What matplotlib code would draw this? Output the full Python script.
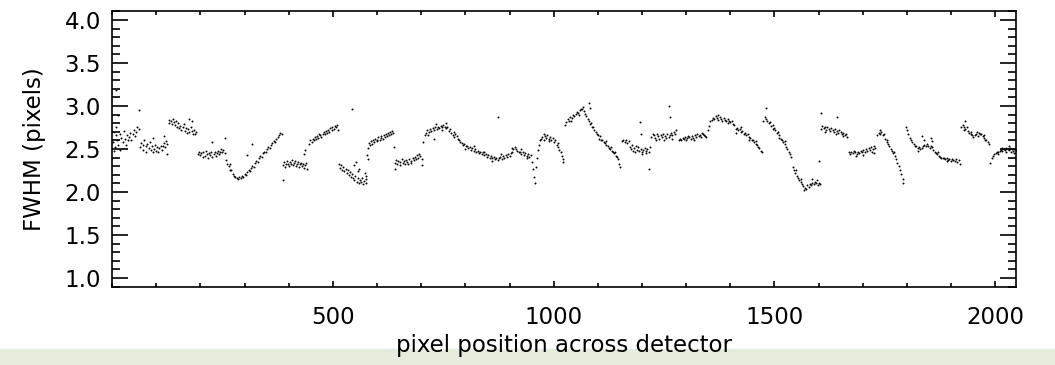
import matplotlib
matplotlib.use("Agg")
import matplotlib.pyplot as plt
from matplotlib.ticker import MultipleLocator
from matplotlib.patches import Rectangle

pix_a = [2, 4, 6, 8, 10, 12, 14, 17, 19, 21, 24, 26, 29, 31, 34, 36, 39, 41, 44, 47, 49, 52, 55, 57, 60]
fwhm_a = [2.58, 2.70, 2.52, 2.66, 2.75, 2.61, 2.55, 2.68, 2.49, 2.63, 2.58, 2.71, 2.62, 2.55, 2.66, 2.60, 2.64, 2.69,
          2.61, 2.67, 2.72, 2.65, 2.70, 2.76, 2.73]

pix_b = [64, 66, 69, 71, 73, 76, 78, 80, 83, 85, 88, 90, 93, 95, 97, 100, 102, 105, 107, 110, 112, 115, 117, 120, 122, 125,
         128, 130, 133, 135, 137, 140, 142, 145, 147, 150, 152, 155, 157, 160, 162, 165, 167, 170, 172, 175, 178, 180,
         183, 185, 188, 190]
fwhm_b = [2.52, 2.57, 2.49, 2.55, 2.60, 2.53, 2.47, 2.56, 2.51, 2.58, 2.49, 2.53, 2.46, 2.50, 2.55, 2.48, 2.52, 2.47,
          2.51, 2.54, 2.49, 2.53, 2.57, 2.52, 2.59, 2.56,
          2.80, 2.84, 2.82, 2.79, 2.85, 2.81, 2.78, 2.83, 2.76, 2.80, 2.74, 2.77, 2.72, 2.75, 2.79, 2.71, 2.74, 2.69,
          2.73, 2.70, 2.76, 2.71, 2.68, 2.72, 2.67, 2.70]

pix_c = [195, 197, 200, 202, 205, 207, 210, 212, 215, 217, 220, 222, 225, 227, 230, 232, 235, 237, 240, 242, 245, 247,
         250, 252, 255,
         258, 261, 264, 267, 270, 273, 276, 279, 282, 285, 288, 291, 294, 297, 300, 303, 306, 309, 312, 315, 318, 321,
         324, 327, 330, 333, 336, 339, 342, 345, 348, 351, 354, 357, 360, 363, 366, 369, 372, 375, 378, 381, 384]
fwhm_c = [2.44, 2.47, 2.43, 2.45, 2.41, 2.46, 2.42, 2.48, 2.44, 2.40, 2.45, 2.43, 2.47, 2.41, 2.44, 2.46, 2.42, 2.45,
          2.48, 2.44, 2.47, 2.50, 2.46, 2.49, 2.45,
          2.37, 2.33, 2.30, 2.26, 2.25, 2.21, 2.19, 2.17, 2.16, 2.15, 2.17, 2.16, 2.19, 2.18, 2.21, 2.20, 2.23, 2.25,
          2.24, 2.28, 2.30, 2.29, 2.34, 2.36, 2.35, 2.40, 2.42, 2.41, 2.45, 2.47, 2.46, 2.50, 2.52, 2.51, 2.55, 2.57,
          2.59, 2.58, 2.62, 2.64, 2.66, 2.69, 2.68]

pix_d = [387, 389, 391, 393, 396, 398, 400, 403, 405, 407, 410, 412, 414, 417, 419, 421, 424, 426, 428, 431, 433, 435,
         438, 440, 442,
         447, 449, 452, 454, 457, 459, 462, 464, 467, 469, 472, 474, 477, 479, 482, 484, 487, 489, 492, 494, 497, 499,
         502, 504, 507, 509, 512]
fwhm_d = [2.31, 2.35, 2.29, 2.33, 2.36, 2.32, 2.30, 2.35, 2.33, 2.37, 2.31, 2.34, 2.36, 2.30, 2.33, 2.35, 2.29, 2.32,
          2.34, 2.30, 2.33, 2.28, 2.31, 2.34, 2.27,
          2.56, 2.60, 2.58, 2.62, 2.61, 2.64, 2.62, 2.65, 2.63, 2.67, 2.66, 2.64, 2.68, 2.70, 2.67, 2.71, 2.69, 2.72,
          2.70, 2.74, 2.72, 2.76, 2.73, 2.77, 2.75, 2.78, 2.72]

pix_e = [514, 516, 519, 521, 524, 526, 529, 531, 534, 536, 539, 541, 544, 546, 549, 551, 554, 556, 559, 561, 564, 566,
         569, 571, 574, 576,
         578, 580, 582, 585, 587, 589, 592, 594, 596, 599, 601, 603, 606, 608, 610, 613, 615, 617, 620, 622, 624, 627,
         629, 631, 634, 636,
         641, 643, 646, 648, 651, 653, 656, 658, 661, 663, 666, 668, 671, 673, 676, 678, 681, 683, 686, 688, 691, 693,
         696, 698, 701]
fwhm_e = [2.33, 2.28, 2.31, 2.26, 2.29, 2.24, 2.27, 2.22, 2.25, 2.20, 2.23, 2.18, 2.21, 2.16, 2.14, 2.19, 2.12, 2.16,
          2.10, 2.14, 2.12, 2.16, 2.09, 2.13, 2.15, 2.11,
          2.43, 2.51, 2.57, 2.55, 2.59, 2.56, 2.60, 2.58, 2.62, 2.59, 2.61, 2.64, 2.60, 2.63, 2.65, 2.62, 2.66, 2.64,
          2.67, 2.65, 2.69, 2.66, 2.70, 2.68, 2.71, 2.69,
          2.34, 2.37, 2.33, 2.36, 2.31, 2.35, 2.38, 2.34, 2.36, 2.32, 2.37, 2.35, 2.33, 2.38, 2.36, 2.34, 2.39, 2.37,
          2.41, 2.38, 2.43, 2.40, 2.44, 2.42, 2.38]

pix_f = [705, 708, 711, 714, 717, 720, 723, 726, 729, 732, 735, 738, 741, 744, 747, 750, 753, 756, 759, 762, 765, 768,
         771, 774, 777, 780, 783, 786, 789, 792, 795, 798, 801, 804, 807, 810, 813, 816, 819, 822, 825, 828, 831, 834,
         837, 840, 843, 846, 849, 852, 855, 858, 861, 864, 867, 870, 873, 876, 879, 882, 885, 888, 891, 894, 897, 900,
         903, 906, 909, 912, 915, 918, 921, 924, 927, 930, 933, 936, 939, 942, 945, 948, 951, 953, 955, 957, 960, 962,
         964, 966, 968, 971, 974, 977, 980, 983, 986, 989, 992, 995, 998, 1001, 1004, 1007, 1010, 1013, 1016, 1019,
         1022,
         716, 733, 748, 757, 775, 800, 820, 842, 860, 880, 905, 925, 940, 978, 990, 1009, 1020]
fwhm_f = [2.58, 2.66, 2.69, 2.72, 2.70, 2.73, 2.71, 2.74, 2.72, 2.75, 2.73, 2.76, 2.74, 2.77, 2.75, 2.78, 2.76, 2.74,
          2.75, 2.71, 2.73, 2.69, 2.66, 2.70, 2.68, 2.65, 2.62, 2.60, 2.58, 2.57, 2.55, 2.56, 2.53, 2.54, 2.51, 2.52,
          2.49, 2.51, 2.48, 2.50, 2.47, 2.48, 2.45, 2.47, 2.44, 2.46, 2.43, 2.44, 2.41, 2.43, 2.40, 2.42, 2.39, 2.41,
          2.38, 2.40, 2.37, 2.39, 2.41, 2.38, 2.42, 2.40, 2.43, 2.41, 2.44, 2.42, 2.45, 2.47, 2.50, 2.52, 2.50, 2.48,
          2.46, 2.47, 2.44, 2.46, 2.43, 2.45, 2.42, 2.44, 2.41, 2.43, 2.35, 2.27, 2.18, 2.10, 2.29, 2.40, 2.49, 2.55,
          2.60, 2.62, 2.64, 2.61, 2.65, 2.63, 2.66, 2.62, 2.64, 2.61, 2.63, 2.58, 2.60, 2.55, 2.52, 2.49, 2.46, 2.42,
          2.38,
          2.66, 2.79, 2.72, 2.80, 2.64, 2.50, 2.53, 2.47, 2.36, 2.44, 2.51, 2.50, 2.39, 2.67, 2.59, 2.57, 2.35]

pix_g = [1026, 1029, 1032, 1035, 1038, 1041, 1044, 1047, 1050, 1053, 1056, 1059, 1062, 1065, 1068, 1071, 1074, 1077,
         1080, 1083, 1086, 1089, 1092, 1095, 1098, 1101, 1104, 1107, 1110, 1113, 1116, 1119, 1122, 1125, 1128, 1131,
         1134, 1137, 1140, 1143, 1146, 1149, 1151,
         1040, 1058, 1066, 1085, 1102, 1118, 1130, 1139,
         1155, 1158, 1161, 1164, 1167, 1170, 1173, 1176, 1179, 1182, 1185, 1188, 1191, 1194, 1197, 1200, 1203, 1206,
         1209, 1212, 1215, 1177, 1186, 1199, 1208]
fwhm_g = [2.78, 2.81, 2.85, 2.83, 2.87, 2.86, 2.90, 2.88, 2.91, 2.93, 2.92, 2.95, 2.97, 2.96, 2.94, 2.91, 2.88, 2.85,
          2.82, 2.79, 2.76, 2.75, 2.72, 2.70, 2.68, 2.66, 2.65, 2.61, 2.60, 2.58, 2.57, 2.55, 2.54, 2.51, 2.50, 2.48,
          2.46, 2.45, 2.42, 2.41, 2.38, 2.33, 2.29,
          2.83, 2.90, 2.99, 2.80, 2.62, 2.59, 2.52, 2.47,
          2.59, 2.61, 2.58, 2.60, 2.57, 2.59, 2.52, 2.50, 2.48, 2.51, 2.47, 2.49, 2.52, 2.48, 2.50, 2.46, 2.49, 2.51,
          2.48, 2.50, 2.47, 2.55, 2.53, 2.44, 2.45]

pix_h = [1221, 1224, 1227, 1230, 1233, 1236, 1239, 1242, 1245, 1248, 1251, 1254, 1257, 1260, 1263, 1266, 1269, 1272,
         1275, 1278, 1232, 1250, 1268,
         1283, 1286, 1289, 1292, 1295, 1298, 1301, 1304, 1307, 1310, 1313, 1316, 1319, 1322, 1325, 1328, 1331, 1334,
         1337, 1340, 1343, 1346, 1349, 1352, 1355, 1358, 1361, 1300, 1318, 1335]
fwhm_h = [2.64, 2.68, 2.66, 2.63, 2.67, 2.65, 2.62, 2.66, 2.64, 2.68, 2.65, 2.63, 2.67, 2.64, 2.66, 2.69, 2.66, 2.70,
          2.67, 2.72, 2.60, 2.61, 2.62,
          2.60, 2.62, 2.61, 2.63, 2.62, 2.64, 2.63, 2.65, 2.64, 2.62, 2.65, 2.63, 2.66, 2.64, 2.67, 2.65, 2.66, 2.64,
          2.67, 2.66, 2.65, 2.64, 2.72, 2.77, 2.82, 2.84, 2.86, 2.60, 2.61, 2.69]

pix_i = [1364, 1367, 1370, 1373, 1376, 1379, 1382, 1385, 1388, 1391, 1394, 1397, 1400, 1403, 1406, 1409, 1412, 1415,
         1418, 1421, 1424, 1427, 1430, 1433, 1436, 1439, 1442, 1445, 1448, 1451, 1454, 1457, 1460, 1463, 1466, 1469,
         1471, 1372, 1395, 1413, 1425, 1443, 1458,
         1475, 1478, 1481, 1484, 1487, 1490, 1493, 1496, 1499, 1502, 1505, 1508, 1511, 1514, 1517, 1520, 1523, 1526,
         1529, 1532, 1535, 1538, 1497, 1510, 1524]
fwhm_i = [2.85, 2.88, 2.86, 2.84, 2.87, 2.85, 2.83, 2.86, 2.84, 2.82, 2.85, 2.83, 2.81, 2.83, 2.79, 2.78, 2.73, 2.74,
          2.72, 2.73, 2.70, 2.71, 2.68, 2.69, 2.66, 2.67, 2.64, 2.63, 2.60, 2.61, 2.58, 2.56, 2.55, 2.52, 2.51, 2.48,
          2.46, 2.89, 2.80, 2.69, 2.75, 2.61, 2.59,
          2.82, 2.87, 2.85, 2.83, 2.80, 2.81, 2.77, 2.78, 2.74, 2.72, 2.69, 2.70, 2.66, 2.62, 2.60, 2.58, 2.56, 2.52,
          2.50, 2.47, 2.44, 2.41, 2.73, 2.63, 2.59]

pix_j = [1541, 1544, 1547, 1550, 1553, 1556, 1559, 1562, 1565, 1568, 1571, 1574, 1577, 1580, 1583, 1586, 1589, 1592,
         1595, 1598, 1601, 1603, 1548, 1560, 1566, 1585, 1596,
         1605, 1608, 1611, 1614, 1617, 1620, 1623, 1626, 1629, 1632, 1635, 1638, 1641, 1644, 1647, 1650, 1653, 1656,
         1659, 1662, 1665, 1615, 1640, 1655]
fwhm_j = [2.29, 2.26, 2.22, 2.19, 2.16, 2.14, 2.12, 2.09, 2.07, 2.05, 2.03, 2.08, 2.06, 2.09, 2.08, 2.11, 2.09, 2.12,
          2.10, 2.08, 2.11, 2.09, 2.25, 2.15, 2.02, 2.15, 2.14,
          2.73, 2.77, 2.74, 2.76, 2.72, 2.75, 2.73, 2.71, 2.74, 2.72, 2.70, 2.73, 2.71, 2.69, 2.72, 2.70, 2.67, 2.69,
          2.66, 2.68, 2.64, 2.70, 2.68, 2.65]

pix_k = [1668, 1671, 1674, 1677, 1680, 1683, 1686, 1689, 1692, 1695, 1698, 1701, 1704, 1707, 1710, 1713, 1716, 1719,
         1722, 1725, 1728, 1685, 1700, 1720, 1726,
         1733, 1736, 1739, 1742, 1745, 1748, 1751, 1754, 1757, 1760, 1763, 1766, 1769, 1772, 1775, 1778, 1781, 1784,
         1787, 1790, 1792, 1740, 1755, 1770]
fwhm_k = [2.46, 2.44, 2.47, 2.45, 2.48, 2.46, 2.44, 2.47, 2.45, 2.48, 2.46, 2.49, 2.47, 2.50, 2.48, 2.51, 2.49, 2.52,
          2.50, 2.53, 2.51, 2.42, 2.43, 2.47, 2.45,
          2.66, 2.69, 2.67, 2.70, 2.66, 2.68, 2.62, 2.58, 2.56, 2.53, 2.50, 2.48, 2.45, 2.42, 2.38, 2.34, 2.30, 2.26,
          2.21, 2.15, 2.11, 2.72, 2.60, 2.47]

pix_l = [1797, 1800, 1803, 1806, 1809, 1812, 1815, 1818, 1821, 1824, 1827, 1830, 1833, 1836, 1839, 1842, 1845, 1848,
         1851, 1854, 1857, 1860, 1863, 1866, 1869, 1872, 1875, 1878, 1881, 1884, 1887, 1890, 1893, 1896, 1899, 1902,
         1905, 1908, 1911, 1914, 1917, 1919, 1835, 1838, 1854, 1856, 1825, 1870, 1890]
fwhm_l = [2.76, 2.72, 2.68, 2.63, 2.60, 2.58, 2.56, 2.54, 2.53, 2.51, 2.52, 2.50, 2.51, 2.53, 2.55, 2.54, 2.56, 2.53,
          2.51, 2.54, 2.52, 2.49, 2.47, 2.45, 2.44, 2.42, 2.41, 2.40, 2.39, 2.40, 2.38, 2.39, 2.37, 2.38, 2.36, 2.38,
          2.37, 2.36, 2.38, 2.35, 2.37, 2.33, 2.65, 2.61, 2.63, 2.59, 2.48, 2.47, 2.36]

pix_m = [1923, 1926, 1929, 1932, 1935, 1938, 1941, 1944, 1947, 1950, 1953, 1956, 1959, 1962, 1965, 1968, 1971, 1974,
         1977, 1980, 1983, 1985, 1930, 1945, 1960, 1975,
         1989, 1992, 1995, 1998, 2001, 2004, 2007, 2010, 2013, 2016, 2019, 2022, 2025, 2028, 2031, 2034, 2037, 2040,
         2043, 2046, 2005, 2015, 2025, 2035, 2042, 2030]
fwhm_m = [2.75, 2.78, 2.76, 2.73, 2.75, 2.71, 2.69, 2.70, 2.66, 2.64, 2.66, 2.68, 2.70, 2.69, 2.67, 2.68, 2.65, 2.63,
          2.61, 2.60, 2.58, 2.56, 2.72, 2.67, 2.65, 2.66,
          2.34, 2.39, 2.42, 2.44, 2.45, 2.47, 2.46, 2.48, 2.49, 2.48, 2.50, 2.49, 2.51, 2.50, 2.49, 2.51, 2.50, 2.48,
          2.50, 2.49, 2.44, 2.51, 2.46, 2.47, 2.45, 2.53]

# isolated points off the main tracks
pix_out = [5, 10, 13, 60, 93, 118, 124, 174, 182, 226, 256, 268, 305, 318, 386, 434, 437, 544, 548, 552, 556, 560, 573,
           575, 579, 638, 640, 702, 728, 874, 1080, 1082, 1196, 1198, 1216, 1219, 1262, 1264, 1480, 1601, 1606, 1642,
           1932]
fwhm_out = [2.48, 3.19, 2.90, 2.95, 2.63, 2.65, 2.44, 2.85, 2.82, 2.58, 2.63, 2.32, 2.43, 2.56, 2.14, 2.44, 2.49, 2.96,
            2.31, 2.35, 2.24, 2.27, 2.22, 2.19, 2.38, 2.52, 2.27, 2.31, 2.62, 2.87, 3.04, 2.98, 2.81, 2.67, 2.27, 2.52,
            3.00, 2.87, 2.98, 2.36, 2.92, 2.87, 2.82]

pix = pix_a + pix_b + pix_c + pix_d + pix_e + pix_f + pix_g + pix_h + pix_i + pix_j + pix_k + pix_l + pix_m + pix_out
fwhm = (fwhm_a + fwhm_b + fwhm_c + fwhm_d + fwhm_e + fwhm_f + fwhm_g + fwhm_h + fwhm_i + fwhm_j + fwhm_k + fwhm_l
        + fwhm_m + fwhm_out)

plt.rcParams['font.family'] = 'DejaVu Sans'
fig = plt.figure(figsize=(10.55, 3.65), dpi=100)
ax = fig.add_axes([0.1062, 0.2137, 0.8569, 0.7562])

ax.plot(pix, fwhm, 'k.', ms=2.8, mew=0)

ax.set_xlim(0, 2047)
ax.set_ylim(0.895, 4.105)
ax.set_xticks([500, 1000, 1500, 2000])
ax.xaxis.set_minor_locator(MultipleLocator(100))
ax.yaxis.set_minor_locator(MultipleLocator(0.1))
ax.set_yticks([1.0, 1.5, 2.0, 2.5, 3.0, 3.5, 4.0])
ax.set_yticklabels(['1.0', '1.5', '2.0', '2.5', '3.0', '3.5', '4.0'])

ax.tick_params(axis='both', which='both', direction='in', top=True, right=True, width=1.2, labelsize=16.5)
ax.tick_params(axis='x', which='major', length=4.5, pad=14)
ax.tick_params(axis='x', which='minor', length=2.6)
ax.tick_params(axis='y', which='major', length=11.5, pad=8)
ax.tick_params(axis='y', which='minor', length=5.8)
for s in ax.spines.values():
    s.set_linewidth(1.2)

ax.set_xlabel('pixel position across detector', fontsize=16.5, labelpad=3)
ax.set_ylabel('FWHM (pixels)', fontsize=16.5, labelpad=13)

# slide background strip at the bottom edge, behind the axis label
fig.patches.append(Rectangle((0, 0), 1, 16 / 365, transform=fig.transFigure, color='#e6eddc', zorder=-1))

fig.savefig('out.png', dpi=100)
